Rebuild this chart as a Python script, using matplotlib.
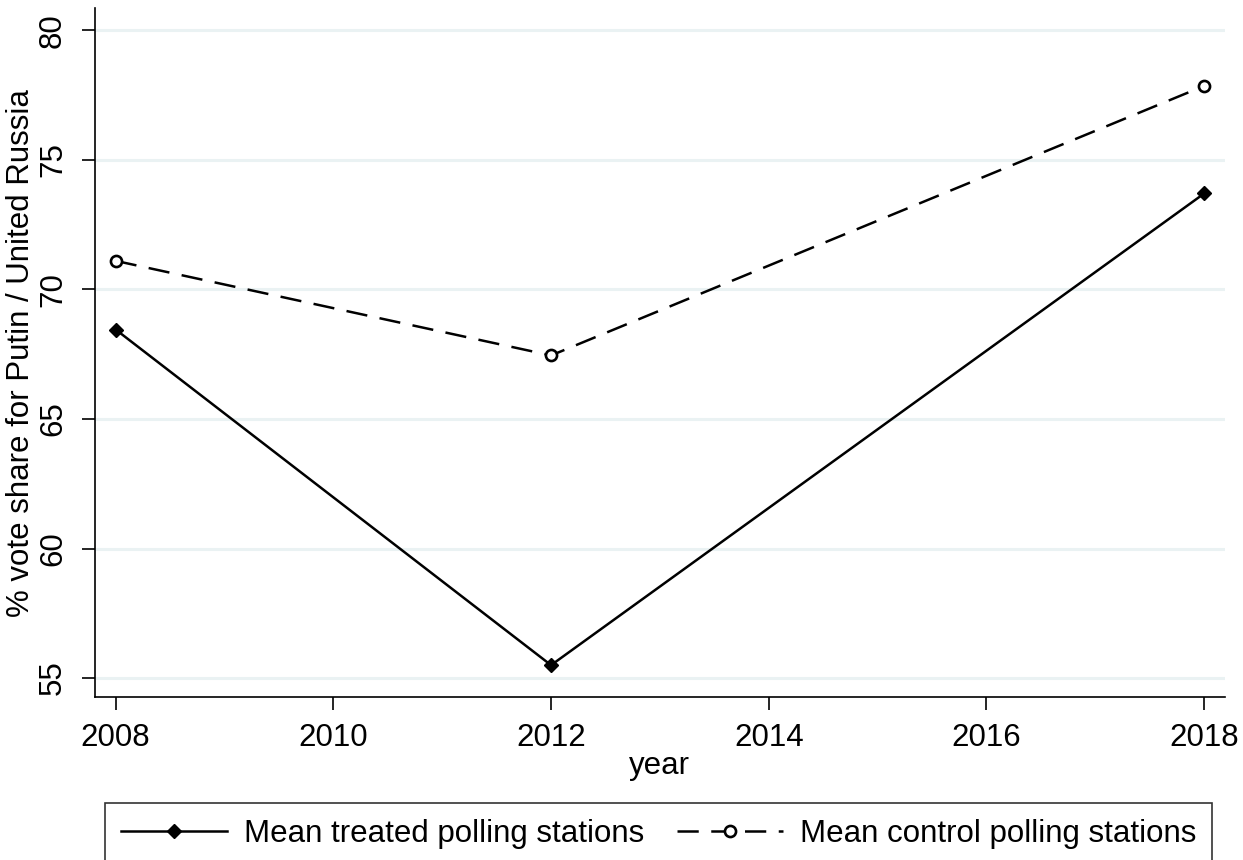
import matplotlib
matplotlib.use('Agg')
import matplotlib.pyplot as plt

plt.rcParams['font.family'] = ['Liberation Sans', 'DejaVu Sans']

years = [2008, 2012, 2018]
treated = [68.45, 55.5, 73.7]
control = [71.1, 67.45, 77.85]
x_ticks = [2008, 2010, 2012, 2014, 2016, 2018]
y_ticks = [55, 60, 65, 70, 75, 80]

fig = plt.figure(figsize=(12.43, 8.6), dpi=100)
ax = fig.add_axes([0.0764, 0.1895, 0.909, 0.801])

# light Stata-style gridlines
for y in y_ticks:
    ax.axhline(y, color='#eaf2f3', lw=2.2, zorder=0)

ax.plot(years, treated, color='black', lw=1.8, marker='D', markersize=7,
        markerfacecolor='black', label='Mean treated polling stations')
ax.plot(years, control, color='black', lw=1.8, dashes=(8.5, 5), marker='o',
        markersize=8, markerfacecolor='white', markeredgewidth=1.9,
        label='Mean control polling stations')

ax.set_xlim(2007.81, 2018.19)
ax.set_ylim(54.27, 80.85)
ax.set_xticks(x_ticks)
ax.set_yticks(y_ticks)
ax.tick_params(direction='out', length=9.5, width=1.2, labelsize=22.5)
ax.tick_params(axis='x', pad=9)
ax.tick_params(axis='y', pad=10)
for lab in ax.get_yticklabels():
    lab.set_rotation(90)
    lab.set_va('center')
ax.spines['top'].set_visible(False)
ax.spines['right'].set_visible(False)
ax.spines['left'].set_linewidth(1.2)
ax.spines['bottom'].set_linewidth(1.2)

ax.set_xlabel('year', fontsize=22.5, labelpad=-1)
ax.set_ylabel('% vote share for Putin / United Russia', fontsize=22.5, labelpad=1)

leg = fig.legend(loc='upper left', bbox_to_anchor=(0.0845, 0.0663, 0.8906, 0),
                 mode='expand', ncol=2, fontsize=22.5, frameon=True, fancybox=False,
                 edgecolor='black', handlelength=3.4, borderaxespad=0,
                 borderpad=0.5, handletextpad=0.55, columnspacing=0.8)
leg.get_frame().set_linewidth(1.2)

fig.savefig('out.png', dpi=100)
